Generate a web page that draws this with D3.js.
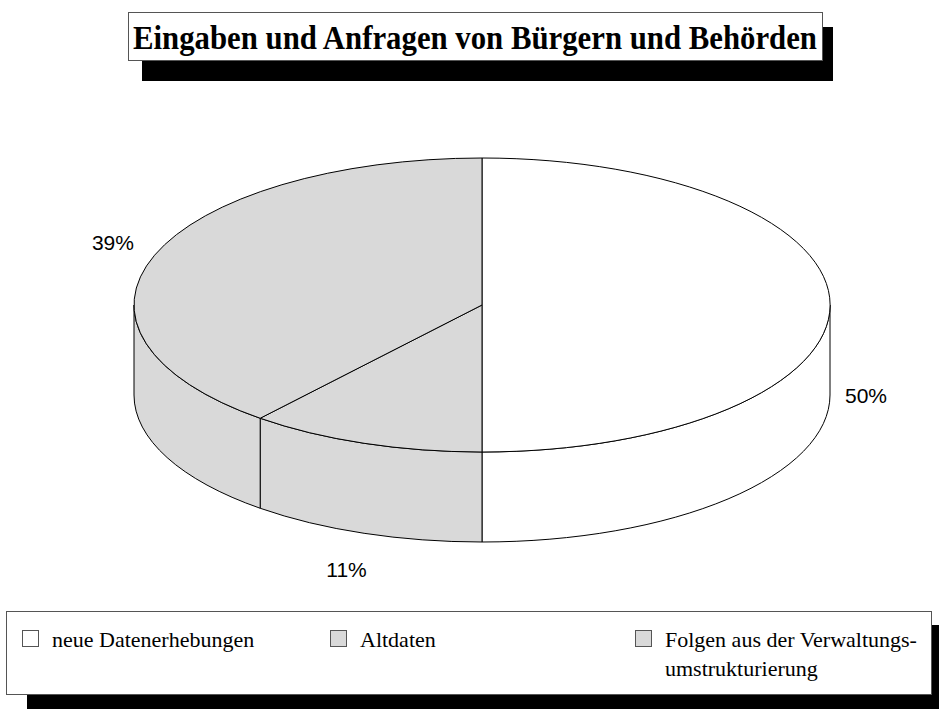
<!DOCTYPE html>
<html>
<head>
<meta charset="utf-8">
<script src="https://d3js.org/d3.v7.min.js"></script>
<style>
    body { margin: 0; background: #fff; }
    svg { display: block; }
</style>
</head>
<body>
<svg id="chart"></svg>
<script>
    // chart data
    let categories = ["neue Datenerhebungen", "Altdaten", "Folgen aus der Verwaltungs-umstrukturierung"]
    let legendLines = [["neue Datenerhebungen"], ["Altdaten"], ["Folgen aus der Verwaltungs-", "umstrukturierung"]]
    let values = [50, 11, 39]
    let labels = ["50%", "11%", "39%"]
    let colors = ["#ffffff", "#d9d9d9", "#d9d9d9"]
    let title = "Eingaben und Anfragen von Bürgern und Behörden"

    let width = 941, height = 711
    let svg = d3.select("#chart").attr("width", width).attr("height", height)

    // title box with drop shadow
    svg.append("rect").attr("x", 142).attr("y", 27).attr("width", 691).attr("height", 54).attr("fill", "#000")
    svg.append("rect").attr("x", 128.5).attr("y", 12.5).attr("width", 694).attr("height", 48)
        .attr("fill", "#fff").attr("stroke", "#555").attr("stroke-width", 1)
    svg.append("text")
        .attr("x", 133).attr("y", 49)
        .attr("textLength", 684).attr("lengthAdjust", "spacingAndGlyphs")
        .style("font-family", "'Liberation Serif', 'Times New Roman', serif")
        .style("font-weight", "bold").style("font-size", "34px")
        .text(title)

    // 3D pie geometry
    let cx = 482, cy = 305, rx = 348, ry = 147, depth = 90
    let pie = d3.pie().sort(null).value(d => d).startAngle(0).endAngle(2 * Math.PI)
    let arcs = pie(values)

    let px = a => cx + rx * Math.sin(a)
    let py = a => cy - ry * Math.cos(a)

    function topPath(d) {
        let large = (d.endAngle - d.startAngle) > Math.PI ? 1 : 0
        return `M${cx},${cy} L${px(d.startAngle)},${py(d.startAngle)} ` +
            `A${rx},${ry} 0 ${large} 1 ${px(d.endAngle)},${py(d.endAngle)} Z`
    }

    // front wall of a slice, only the part between 3 and 9 o'clock is visible
    function sidePath(d) {
        let s = Math.max(d.startAngle, Math.PI / 2)
        let e = Math.min(d.endAngle, 3 * Math.PI / 2)
        if (e <= s) return null
        let large = (e - s) > Math.PI ? 1 : 0
        return `M${px(s)},${py(s)} A${rx},${ry} 0 ${large} 1 ${px(e)},${py(e)} ` +
            `L${px(e)},${py(e) + depth} A${rx},${ry} 0 ${large} 0 ${px(s)},${py(s) + depth} Z`
    }

    let pieG = svg.append("g")
    pieG.selectAll(".side")
        .data(arcs.filter(d => sidePath(d)))
        .enter().append("path")
        .attr("class", "side")
        .attr("d", sidePath)
        .attr("fill", d => colors[d.index])
        .attr("stroke", "#000").attr("stroke-width", 1)

    pieG.selectAll(".top")
        .data(arcs)
        .enter().append("path")
        .attr("class", "top")
        .attr("d", topPath)
        .attr("fill", d => colors[d.index])
        .attr("stroke", "#000").attr("stroke-width", 1)

    // percentage labels
    let lrx = 388, lry = 185
    pieG.selectAll(".label")
        .data(arcs)
        .enter().append("text")
        .attr("class", "label")
        .attr("x", d => {
            let m = (d.startAngle + d.endAngle) / 2
            return cx + lrx * Math.sin(m) - 4
        })
        .attr("y", d => {
            let m = (d.startAngle + d.endAngle) / 2
            let front = m >= Math.PI / 2 && m <= 3 * Math.PI / 2
            return cy - lry * Math.cos(m) + (front ? depth : 0)
        })
        .attr("text-anchor", "middle")
        .attr("dominant-baseline", "central")
        .style("font-family", "'Liberation Sans', Arial, sans-serif")
        .style("font-size", "21px")
        .text((d, i) => labels[i])

    // legend box with drop shadow
    svg.append("rect").attr("x", 27).attr("y", 625).attr("width", 912).attr("height", 84).attr("fill", "#000")
    svg.append("rect").attr("x", 6.5).attr("y", 611.5).attr("width", 925).attr("height", 83)
        .attr("fill", "#fff").attr("stroke", "#555").attr("stroke-width", 1)

    let legendX = [22, 330, 635]
    let legend = svg.selectAll(".legend")
        .data(categories)
        .enter().append("g")
        .attr("class", "legend")
        .attr("transform", (d, i) => `translate(${legendX[i]},630)`)

    legend.append("rect")
        .attr("x", 0.5).attr("y", 0.5).attr("width", 16).attr("height", 16)
        .attr("fill", (d, i) => colors[i])
        .attr("stroke", "#555").attr("stroke-width", 1)

    legend.append("text")
        .attr("x", 30).attr("y", 17)
        .style("font-family", "'Liberation Serif', 'Times New Roman', serif")
        .style("font-size", "22px")
        .selectAll("tspan")
        .data((d, i) => legendLines[i])
        .enter().append("tspan")
        .attr("x", 30)
        .attr("dy", (d, j) => j === 0 ? 0 : 29)
        .text(d => d)
</script>
</body>
</html>
